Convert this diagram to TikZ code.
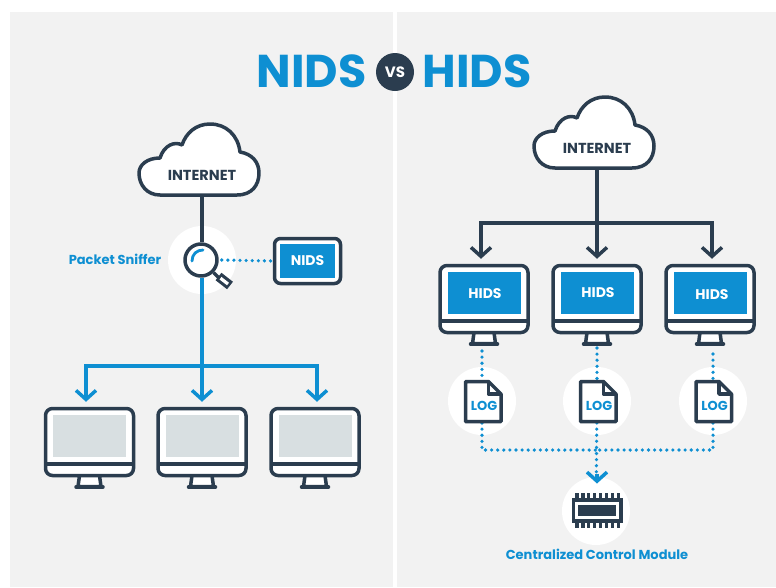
\documentclass[tikz,border=0pt]{standalone}
\usepackage{xcolor}
\usepackage{fontspec}
\setmainfont{Poppins}
\usepackage{tikz}
\usetikzlibrary{arrows.meta,positioning}

\definecolor{panelgray}{HTML}{F2F2F2}
\definecolor{navy}{HTML}{2B3D4F}
\definecolor{skyblue}{HTML}{0E8FD2}
\definecolor{screengray}{HTML}{D8DFE1}

\tikzset{
    darkline/.style={draw=navy, line width=3.5pt, line join=round},
    blueline/.style={draw=skyblue, line width=3.5pt},
    barbtip/.style={-{Straight Barb[length=9pt,width=20pt]}},
    dotline/.style={draw=skyblue, line width=3.6pt, line cap=round, dash pattern=on 0pt off 6.1pt},
    halo/.style={circle, fill=white, minimum size=68pt, inner sep=0pt},
    bodybox/.style={darkline, fill=white, rectangle, rounded corners=7pt, minimum width=88pt, minimum height=67pt, inner sep=0pt},
    screenbox/.style={rectangle, minimum width=73pt, minimum height=42pt, inner sep=0pt},
    cloudtext/.style={text=navy, font=\bfseries\fontsize{14.5}{16}\selectfont, minimum width=100pt, minimum height=42pt, inner sep=0pt},
    whitetext/.style={text=white, font=\bfseries\fontsize{14}{16}\selectfont, inner sep=0pt},
    bluelabel/.style={text=skyblue, font=\bfseries\fontsize{13}{15}\selectfont, inner sep=0pt},
    titletext/.style={text=skyblue, font=\bfseries\fontsize{46}{48}\selectfont, inner sep=0pt}
}

% name, x, y of the text centre
\newcommand{\netcloud}[3]{
    \begin{scope}[shift={(#2,#3)}]
        \draw[darkline, fill=white] (-42,20) -- (35,20)
            .. controls (50,20) and (57,10) .. (57,-2)
            .. controls (57,-13) and (50,-21) .. (38,-23)
            .. controls (36,-40) and (24,-51) .. (8,-51)
            .. controls (-6,-51) and (-16,-42) .. (-20,-30)
            .. controls (-27,-34) and (-38,-30) .. (-42,-17)
            .. controls (-55,-17) and (-63,-10) .. (-63,-2)
            .. controls (-63,10) and (-55,20) .. (-42,20) -- cycle;
    \end{scope}
    \node[cloudtext] (#1) at (#2,#3) {INTERNET};
}

% name, x of the centre, y of the top edge, screen colour
\newcommand{\monitor}[4]{
    \draw[darkline, fill=white] (#2-10,#3+67) -- (#2-11.5,#3+78) -- (#2+11.5,#3+78) -- (#2+10,#3+67);
    \draw[darkline, line cap=round] (#2-13.5,#3+78.5) -- (#2+13.5,#3+78.5);
    \node[bodybox] (#1) at (#2,#3+33.5) {};
    \node[screenbox, fill=#4] (#1screen) at (#2,#3+27.5) {};
    \draw[darkline] (#2-44,#3+55.5) -- (#2+44,#3+55.5);
}

% name, x of the left edge
\newcommand{\logpage}[2]{
    \draw[darkline, fill=white] (#2,381.5) -- (#2+23,381.5) -- (#2+35.5,394) -- (#2+35.5,421.5) -- (#2,421.5) -- cycle;
    \draw[darkline] (#2+23,381.5) -- (#2+23,394) -- (#2+35.5,394);
    \node[bluelabel] (#1) at (#2+18.5,406) {LOG};
}

\begin{document}
\begin{tikzpicture}[x=1pt, y=-1pt]
    \useasboundingbox (0,0) rectangle (776,587);

    % Panels
    \fill[white] (0,0) rectangle (776,587);
    \fill[panelgray] (10,12) rectangle (392.5,587);
    \fill[panelgray] (397,12) rectangle (776,587);

    % Title
    \node[titletext] (nidstitle) at (311.5,71) {NIDS};
    \node[titletext] (hidstitle) at (477,71) {HIDS};
    \node[circle, fill=navy, minimum size=38pt, inner sep=0pt, text=white, font=\bfseries\fontsize{15}{16}\selectfont] (vsbadge) at (395,72) {VS};

    % Left side: sniffer and hosts
    \netcloud{netleft}{202}{175}
    \node[halo] (snifferhalo) at (202,260) {};
    \monitor{hostA}{89.5}{408.5}{screengray}
    \monitor{hostB}{202}{408.5}{screengray}
    \monitor{hostC}{315}{408.5}{screengray}

    \node[circle, minimum size=32pt, inner sep=0pt, fill=white, darkline] (lens) at (201,260) {};
    \draw[navy, line width=3.5pt] (lens.south east) -- (219,278);
    \draw[navy, line width=9.5pt] (218.5,276.5) -- (230,285.5);
    \draw[white, line width=3.2pt] (220.5,278.2) -- (228,284);
    \draw[skyblue, line width=2.8pt, line cap=round] (192,261) .. controls (192,254) and (197,250) .. (203,250);

    \draw[darkline] (netleft.south) -- (netleft.south |- lens.north);
    \coordinate (lefthub) at (202,366);
    \draw[blueline] (lefthub |- lens.south) -- (lefthub);
    \draw[blueline, barbtip, shorten >=5pt] (lefthub) -- (hostB.north);
    \draw[blueline, barbtip, shorten >=5pt, line join=miter] (lefthub) -| ([xshift=-3.5pt]hostA.north);
    \draw[blueline, barbtip, shorten >=5pt, line join=miter] (lefthub) -| ([xshift=2pt]hostC.north);

    \node[bluelabel] (snifferlabel) at (115,259) {Packet Sniffer};

    \node[darkline, fill=white, rectangle, rounded corners=6pt, minimum width=66pt, minimum height=45pt, inner sep=0pt] (nidsbox) at (307.5,261) {};
    \node[screenbox, fill=skyblue, minimum width=55pt, minimum height=34pt, whitetext] (nidsscreen) at (307.5,261) {NIDS};
    \draw[dotline] (lens.east) ++(3,0) -- (nidsbox.west) ;

    % Right side: agents
    \netcloud{netright}{597}{148}
    \coordinate (righthub) at (597,223);
    \monitor{agentA}{484}{265.5}{skyblue}
    \monitor{agentB}{597}{265.5}{skyblue}
    \monitor{agentC}{710}{265.5}{skyblue}
    \node[whitetext] (hidsA) at (485,294) {HIDS};
    \node[whitetext] (hidsB) at (598,293) {HIDS};
    \node[whitetext] (hidsC) at (712,295) {HIDS};

    \draw[darkline] (netright.south) -- (righthub);
    \draw[darkline, line join=miter, barbtip, shorten >=5pt] (righthub) -- (agentB.north);
    \draw[darkline, line join=miter, barbtip, shorten >=5pt] (righthub) -| ([xshift=-3pt]agentA.north);
    \draw[darkline, line join=miter, barbtip, shorten >=5pt] (righthub) -| ([xshift=2pt]agentC.north);

    % Logs
    \foreach \x/\name/\ytop in {482/A/351, 597/B/348, 713/C/354} {
        \node[halo] (halo\name) at (\x,401) {};
        \coordinate (drop\name) at (\x,\ytop);
        \draw[dotline, shorten >=21pt] (drop\name) -- (halo\name.center);
    }
    \coordinate (loghub) at (597,450);
    \node[halo] (chiphalo) at (596,511) {};
    \draw[dotline, shorten <=22pt] (haloA.center) |- (loghub);
    \draw[dotline, shorten <=22pt] (haloC.center) |- (loghub);
    \draw[dotline, shorten <=22pt, shorten >=33pt] (haloB.center) -- (chiphalo.center);
    \draw[blueline, barbtip] (597,474) -- (597,483.5);

    \logpage{logA}{465.5}
    \logpage{logB}{580.5}
    \logpage{logC}{696}

    % Chip
    \foreach \x in {0,...,7} {
        \draw[navy, line width=3.3pt] (577+\x*5.9,493) -- (577+\x*5.9,528);
    }
    \node[rectangle, fill=navy, minimum width=51pt, minimum height=25pt, inner sep=0pt] (chip) at (597.5,510.5) {};
    \node[rectangle, fill=navy, draw=white, line width=2.2pt, minimum width=41pt, minimum height=14pt, inner sep=0pt] (chipcore) at (597,510.5) {};
    \node[bluelabel] (chiplabel) at (597,554) {Centralized Control Module};
\end{tikzpicture}
\end{document}
